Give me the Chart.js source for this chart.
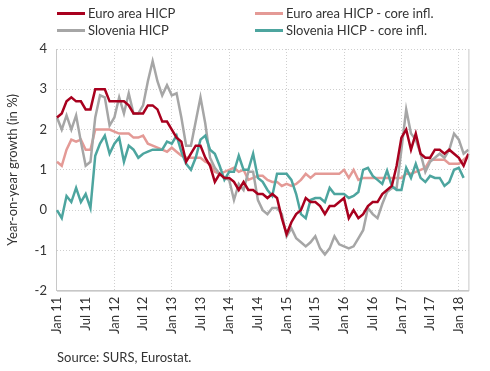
<!DOCTYPE html>
<html>
<head>
<meta charset="utf-8">
<script src="https://cdn.jsdelivr.net/npm/chart.js@4.4.1/dist/chart.umd.min.js"></script>
<style>
  body { margin: 0; background: #fff; font-family: Lato, sans-serif; }
  #wrap { position: relative; width: 490px; height: 371px; }
  #wrap canvas { position: absolute; left: 0; top: 0; }
  .lg { position: absolute; font-size: 13px; color: #333; display: flex; align-items: center; white-space: nowrap; line-height: 16px; }
  .lg i { display: inline-block; width: 28px; height: 3px; margin-right: 3px; }
  #src { position: absolute; left: 57px; top: 349px; font-size: 13px; color: #333; }
</style>
</head>
<body>
<div id="wrap">
  <canvas id="chart" width="490" height="371"></canvas>
  <div class="lg" style="left:57px;top:5px"><i style="background:#a8001e"></i>Euro area HICP</div>
  <div class="lg" style="left:255px;top:5px"><i style="background:#e49a96"></i>Euro area HICP - core infl.</div>
  <div class="lg" style="left:57px;top:22px"><i style="background:#a6a6a6"></i>Slovenia HICP</div>
  <div class="lg" style="left:255px;top:22px"><i style="background:#4da59f"></i>Slovenia HICP - core infl.</div>
  <div id="src">Source: SURS, Eurostat.</div>
</div>
<script>
// monthly categories Jan 11 .. Mar 18
const monthNames = ['Jan', 'Feb', 'Mar', 'Apr', 'May', 'Jun', 'Jul', 'Aug', 'Sep', 'Oct', 'Nov', 'Dec']
const years = ['11', '12', '13', '14', '15', '16', '17', '18']
const months = []
years.forEach(y => monthNames.forEach(m => months.push(m + ' ' + y)))
months.length = 87

const euroHicp = [
  2.3, 2.4, 2.7, 2.8, 2.7, 2.7, 2.5, 2.5, 3.0, 3.0, 3.0, 2.7,
  2.7, 2.7, 2.7, 2.6, 2.4, 2.4, 2.4, 2.6, 2.6, 2.5, 2.2, 2.2,
  2.0, 1.8, 1.7, 1.2, 1.4, 1.6, 1.6, 1.3, 1.1, 0.7, 0.9, 0.8,
  0.8, 0.7, 0.5, 0.7, 0.5, 0.5, 0.4, 0.4, 0.3, 0.4, 0.3, -0.2,
  -0.6, -0.3, -0.1, 0.0, 0.3, 0.2, 0.2, 0.1, -0.1, 0.1, 0.1, 0.2,
  0.3, -0.2, 0.0, -0.2, -0.1, 0.1, 0.2, 0.2, 0.4, 0.5, 0.6, 1.1,
  1.8, 2.0, 1.5, 1.9, 1.4, 1.3, 1.3, 1.5, 1.5, 1.4, 1.5, 1.4,
  1.3, 1.1, 1.4
]
const euroCore = [
  1.2, 1.1, 1.5, 1.75, 1.7, 1.75, 1.5, 1.5, 2.0, 2.0, 2.0, 2.0,
  1.95, 1.9, 1.9, 1.9, 1.8, 1.8, 1.85, 1.65, 1.6, 1.55, 1.5, 1.45,
  1.55, 1.45, 1.35, 1.3, 1.3, 1.3, 1.3, 1.2, 1.15, 0.95, 0.9, 0.95,
  1.0, 1.05, 0.95, 1.0, 0.75, 0.8, 0.85, 0.85, 0.75, 0.7, 0.7, 0.6,
  0.65, 0.6, 0.65, 0.75, 0.9, 0.8, 0.9, 0.9, 0.9, 0.9, 0.9, 0.9,
  1.0, 0.8, 1.0, 0.75, 0.8, 0.8, 0.8, 0.8, 0.8, 0.8, 0.8, 0.8,
  0.8, 0.9, 0.9, 0.95, 1.0, 1.05, 1.25, 1.25, 1.25, 1.25, 1.15, 1.15,
  1.15, 1.25, 1.35
]
const sloHicp = [
  2.3, 2.0, 2.35, 2.0, 2.35, 1.7, 1.1, 1.2, 2.3, 2.85, 2.8, 2.1,
  2.3, 2.8, 2.4, 2.9, 2.4, 2.4, 2.6, 3.2, 3.7, 3.2, 2.85, 3.1,
  2.85, 2.9, 2.3, 1.6, 1.6, 2.2, 2.8, 2.15, 1.3, 1.05, 0.9, 0.8,
  0.75, 0.25, 0.65, 0.5, 0.95, 0.95, 0.25, 0.0, -0.1, 0.05, 0.05, -0.1,
  -0.65, -0.45, -0.7, -0.8, -0.9, -0.8, -0.65, -0.95, -1.1, -0.95, -0.65, -0.85,
  -0.9, -0.95, -0.9, -0.7, -0.5, 0.05, -0.1, -0.2, 0.15, 0.45, 0.55, 0.55,
  1.5, 2.5, 1.9, 1.75, 1.4, 0.95, 1.2, 1.3, 1.4, 1.3, 1.5, 1.9,
  1.75, 1.4, 1.5
]
const sloCore = [
  0.0, -0.2, 0.35, 0.2, 0.55, 0.2, 0.4, 0.05, 1.35, 1.65, 1.85, 1.4,
  1.65, 1.8, 1.2, 1.6, 1.5, 1.3, 1.4, 1.45, 1.5, 1.5, 1.5, 1.7,
  1.65, 1.85, 1.45, 1.15, 1.0, 1.3, 1.75, 1.85, 1.5, 1.4, 1.1, 0.75,
  0.95, 0.95, 1.35, 1.0, 1.0, 1.4, 0.8, 0.7, 0.5, 0.35, 0.9, 0.9,
  0.9, 0.75, 0.4, -0.1, -0.2, 0.25, 0.3, 0.3, 0.2, 0.55, 0.4, 0.4,
  0.4, 0.3, 0.35, 0.45, 1.0, 1.05, 0.85, 0.75, 0.65, 0.98, 0.6, 0.5,
  0.5, 1.05, 0.8, 1.15, 0.8, 0.7, 0.85, 0.8, 0.8, 0.6, 0.7, 1.0,
  1.05, 0.8, null
]

const gridCol = '#cfcfcf'
const font = { family: 'Lato', size: 13 }

// solid frame line on the right and bottom of the plot
const frame = {
  id: 'frame',
  afterDraw (chart) {
    const { ctx, chartArea } = chart
    ctx.save()
    ctx.strokeStyle = '#c8c8c8'
    ctx.lineWidth = 1
    ctx.beginPath()
    ctx.moveTo(chartArea.left, chartArea.bottom + 0.5)
    ctx.lineTo(chartArea.right + 0.5, chartArea.bottom + 0.5)
    ctx.lineTo(chartArea.right + 0.5, chartArea.top)
    ctx.stroke()
    ctx.restore()
  }
}

const line = (label, data, color, order) => ({
  label, data, borderColor: color, backgroundColor: color,
  borderWidth: 2.5, pointRadius: 0, tension: 0, order
})

// eslint-disable-next-line no-unused-vars
const chart = new Chart(document.getElementById('chart'), {
  type: 'line',
  data: {
    labels: months,
    datasets: [
      line('Euro area HICP', euroHicp, '#a8001e', 0),
      line('Euro area HICP - core infl.', euroCore, '#e49a96', 3),
      line('Slovenia HICP', sloHicp, '#a6a6a6', 2),
      line('Slovenia HICP - core infl.', sloCore, '#4da59f', 1)
    ]
  },
  plugins: [frame],
  options: {
    responsive: false,
    animation: false,
    layout: { padding: { top: 49, right: 11, bottom: 31, left: 5 } },
    plugins: {
      legend: { display: false },
      tooltip: { enabled: false }
    },
    scales: {
      x: {
        grid: {
          color: ctx => (ctx.index % 12 === 0 ? gridCol : 'rgba(0,0,0,0)'),
          drawTicks: false
        },
        border: { color: '#c8c8c8', dash: [1, 2] },
        ticks: {
          autoSkip: false,
          maxRotation: 90,
          minRotation: 90,
          padding: 6,
          color: '#333',
          font,
          callback (v, i) { return i % 6 === 0 ? this.getLabelForValue(v) : '' }
        }
      },
      y: {
        min: -2,
        max: 4,
        grid: { color: gridCol, drawTicks: false },
        border: { color: '#c8c8c8', dash: [1, 2] },
        ticks: { stepSize: 1, padding: 10, color: '#333', font },
        title: {
          display: true,
          text: 'Year-on-year growth (in %)',
          color: '#333',
          font,
          padding: { top: 0, bottom: 4 }
        }
      }
    }
  }
})
</script>
</body>
</html>
